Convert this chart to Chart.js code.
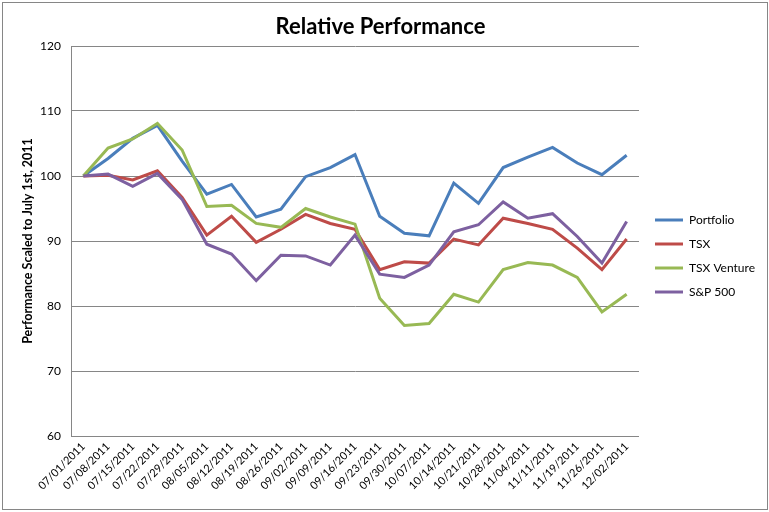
<!DOCTYPE html>
<html>
<head>
<meta charset="utf-8">
<script src="https://cdn.jsdelivr.net/npm/chart.js@4/dist/chart.umd.min.js"></script>
<style>
html,body{margin:0;padding:0;background:#fff;}
#wrap{width:769px;height:512px;position:relative;}
</style>
</head>
<body>
<div id="wrap"><canvas id="c" width="769" height="512"></canvas></div>
<script>
const categories = ["07/01/2011","07/08/2011","07/15/2011","07/22/2011","07/29/2011","08/05/2011","08/12/2011","08/19/2011","08/26/2011","09/02/2011","09/09/2011","09/16/2011","09/23/2011","09/30/2011","10/07/2011","10/14/2011","10/21/2011","10/28/2011","11/04/2011","11/11/2011","11/19/2011","11/26/2011","12/02/2011"];
const portfolio = [100, 102.7, 105.8, 107.8, 102.3, 97.2, 98.7, 93.7, 94.9, 99.9, 101.3, 103.3, 93.8, 91.2, 90.8, 98.9, 95.8, 101.3, 102.9, 104.4, 102.0, 100.2, 103.2];
const tsx = [100, 100.1, 99.4, 100.8, 96.7, 90.9, 93.8, 89.8, 91.8, 94.1, 92.7, 91.8, 85.6, 86.8, 86.6, 90.3, 89.4, 93.5, 92.7, 91.8, 88.9, 85.6, 90.3];
const tsxVenture = [100, 104.3, 105.7, 108.1, 104.0, 95.3, 95.5, 92.7, 92.1, 95.0, 93.7, 92.6, 81.2, 77.0, 77.3, 81.8, 80.6, 85.6, 86.7, 86.3, 84.4, 79.1, 81.8];
const sp500 = [100, 100.3, 98.4, 100.4, 96.4, 89.5, 88.0, 83.9, 87.8, 87.7, 86.3, 90.9, 84.9, 84.4, 86.3, 91.4, 92.5, 96.0, 93.5, 94.2, 90.7, 86.6, 93.0];
const seriesNames = ["Portfolio", "TSX", "TSX Venture", "S&P 500"];
const yTicks = [60, 70, 80, 90, 100, 110, 120];

const FONT = "Lato, 'Liberation Sans', sans-serif";
const GRID = '#868686';

const borderPlugin = {
  id: 'outerBorder',
  afterLayout(chart) {
    if (chart.legend) { chart.legend.left += 4; chart.legend.right += 4; }
  },
  beforeDraw(chart) {
    const ctx = chart.ctx;
    ctx.save();
    ctx.fillStyle = '#fff';
    ctx.fillRect(0, 0, chart.width, chart.height);
    ctx.strokeStyle = '#868686';
    ctx.lineWidth = 1;
    ctx.strokeRect(2.5, 2.5, 765, 507);
    ctx.restore();
  }
};

function ds(label, data, color, order) {
  return { label, data, borderColor: color, backgroundColor: color, borderWidth: 3,
    pointRadius: 0, pointHoverRadius: 0, tension: 0, fill: false, order };
}

new Chart(document.getElementById('c'), {
  type: 'line',
  data: {
    labels: categories,
    datasets: [
      ds(seriesNames[0], portfolio, '#4A7EBB', 4),
      ds(seriesNames[1], tsx, '#BE4B48', 3),
      ds(seriesNames[2], tsxVenture, '#98B954', 2),
      ds(seriesNames[3], sp500, '#7D60A0', 1)
    ]
  },
  options: {
    responsive: false,
    animation: false,
    devicePixelRatio: 1,
    layout: { padding: { left: 0, right: 8, top: 0, bottom: 0 } },
    plugins: {
      title: { display: true, text: 'Relative Performance', color: '#000',
        font: { family: FONT, size: 22, weight: 'bold' }, padding: { top: 14, bottom: 5.6 } },
      legend: { position: 'right', align: 'center',
        labels: { usePointStyle: true, pointStyle: 'line', pointStyleWidth: 28, boxHeight: 12,
          padding: 12, color: '#000', font: { family: FONT, size: 12 },
          sort: (a, b) => a.datasetIndex - b.datasetIndex } },
      tooltip: { enabled: false }
    },
    scales: {
      x: {
        type: 'category', offset: true,
        grid: { display: false, drawTicks: false },
        border: { display: true, color: GRID, width: 1 },
        ticks: { autoSkip: false, maxRotation: 45, minRotation: 45, padding: 4, color: '#000',
          font: { family: FONT, size: 11 } },
        afterFit(s) { s.height = 76; }
      },
      y: {
        min: 60, max: 120,
        afterBuildTicks(s) { s.ticks = yTicks.map(v => ({ value: v })); },
        grid: { color: GRID, lineWidth: 1, drawTicks: false },
        border: { display: true, color: GRID, width: 1 },
        ticks: { padding: 10, color: '#000', font: { family: FONT, size: 12 } },
        title: { display: true, text: 'Performance Scaled to July 1st, 2011', color: '#000',
          font: { family: FONT, size: 12.5, weight: 'bold' }, padding: { top: 20, bottom: 0 } },
        afterFit(s) { s.width = 71; }
      }
    }
  },
  plugins: [borderPlugin]
});
</script>
</body>
</html>
